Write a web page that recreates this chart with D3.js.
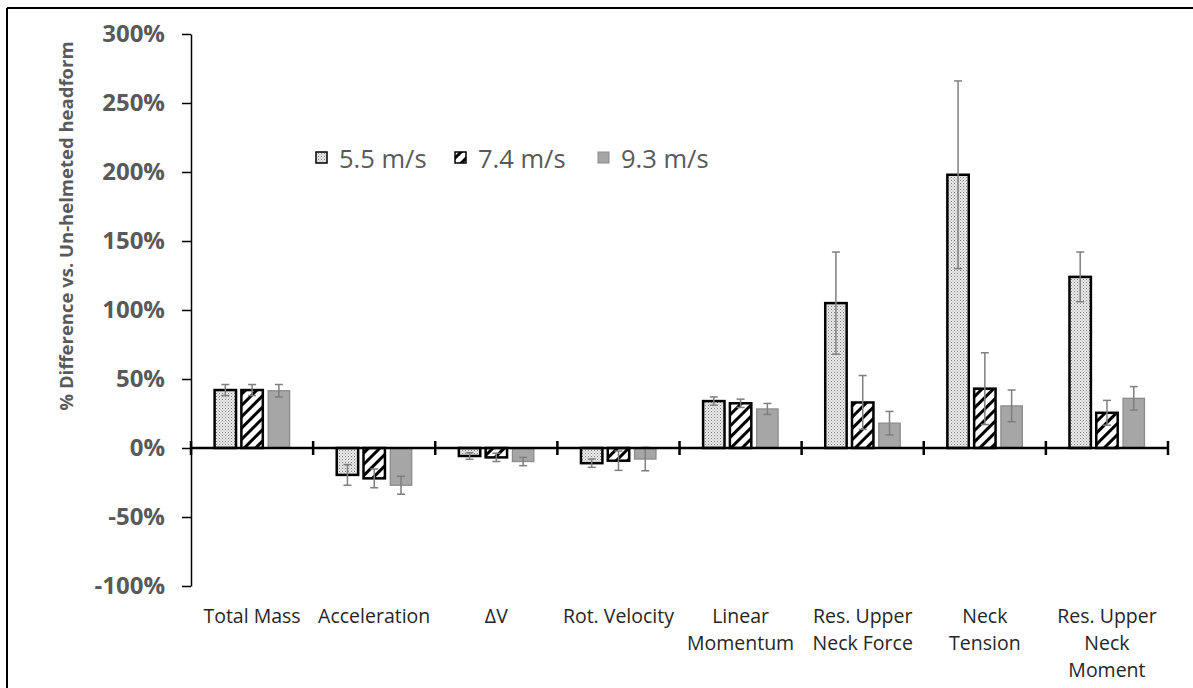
<!DOCTYPE html>
<html><head><meta charset="utf-8">
<script src="https://cdn.jsdelivr.net/npm/d3@7"></script>
<style>
html,body{margin:0;padding:0;background:#fff;}
svg{display:block;font-family:"Open Sans",sans-serif;}
</style></head>
<body>
<svg id="chart" width="1193" height="688"></svg>
<script>
const categories = ["Total Mass","Acceleration","ΔV","Rot. Velocity","Linear Momentum","Res. Upper Neck Force","Neck Tension","Res. Upper Neck Moment"];
const categoryLines = [["Total Mass"],["Acceleration"],["ΔV"],["Rot. Velocity"],["Linear","Momentum"],["Res. Upper","Neck Force"],["Neck","Tension"],["Res. Upper","Neck","Moment"]];
const seriesNames = ["5.5 m/s","7.4 m/s","9.3 m/s"];
const v55 = [42, -19.5, -5.8, -11, 34, 105, 198, 124];
const v74 = [42, -22, -6.8, -9.2, 32.4, 33, 43, 25.5];
const v93 = [41.5, -27, -9.8, -8, 28.3, 18, 30.5, 36];
const e55 = [4, 7.5, 2.4, 3, 3, 37, 68, 18];
const e74 = [4, 6.8, 3, 7, 3, 19.5, 26, 9];
const e93 = [4.5, 6.5, 3, 8.5, 4, 8.5, 11.5, 8.5];
const yTicks = [-100,-50,0,50,100,150,200,250,300];

const values = [v55, v74, v93];
const errors = [e55, e74, e93];

const svg = d3.select("#chart");
const defs = svg.append("defs");
// dotted pattern
const pd = defs.append("pattern").attr("id","dots").attr("patternUnits","userSpaceOnUse").attr("width",3).attr("height",3);
pd.append("rect").attr("width",3).attr("height",3).attr("fill","#ececec");
pd.append("rect").attr("x",0).attr("y",0).attr("width",1).attr("height",1).attr("fill","#7a7a7a");
pd.append("rect").attr("x",1.5).attr("y",1.5).attr("width",1).attr("height",1).attr("fill","#9a9a9a");
// hatch pattern
const ph = defs.append("pattern").attr("id","hatch").attr("patternUnits","userSpaceOnUse").attr("width",8).attr("height",8).attr("patternTransform","rotate(45)");
ph.append("rect").attr("width",8).attr("height",8).attr("fill","#fff");
ph.append("rect").attr("x",0).attr("y",0).attr("width",3).attr("height",8).attr("fill","#000");

const fills = ["url(#dots)","url(#hatch)","#a6a6a6"];
const strokes = ["#000","#000","#8c8c8c"];
const strokeW = [2.5,2.5,1.3];

// frame (top & left visible)
svg.append("line").attr("x1",7).attr("x2",1193).attr("y1",8).attr("y2",8).attr("stroke","#000").attr("stroke-width",2);
svg.append("line").attr("x1",7).attr("x2",7).attr("y1",8).attr("y2",688).attr("stroke","#000").attr("stroke-width",2);

const y = d3.scaleLinear().domain([-100,300]).range([586,34]);
const x = d3.scaleBand().domain(categories).range([191,1168]).padding(0);
const xs = d3.scaleBand().domain(seriesNames).range([23.6, 98.6]).paddingInner(0.2).paddingOuter(0);

// bars
seriesNames.forEach((s,si)=>{
  const g = svg.append("g");
  g.selectAll("rect").data(categories).join("rect")
    .attr("x", (c)=> x(c)+xs(s))
    .attr("width", xs.bandwidth())
    .attr("y", (c,i)=> y(Math.max(0, values[si][i])))
    .attr("height", (c,i)=> Math.abs(y(values[si][i]) - y(0)))
    .attr("fill", fills[si]).attr("stroke", strokes[si]).attr("stroke-width", strokeW[si]);
});
// error bars
seriesNames.forEach((s,si)=>{
  const g = svg.append("g").attr("stroke","#7f7f7f").attr("stroke-width",1.5);
  categories.forEach((c,i)=>{
    const cx = x(c)+xs(s)+xs.bandwidth()/2;
    const v = values[si][i], e = errors[si][i];
    g.append("line").attr("x1",cx).attr("x2",cx).attr("y1",y(v+e)).attr("y2",y(v-e));
    g.append("line").attr("x1",cx-4).attr("x2",cx+4).attr("y1",y(v+e)).attr("y2",y(v+e));
    g.append("line").attr("x1",cx-4).attr("x2",cx+4).attr("y1",y(v-e)).attr("y2",y(v-e));
  });
});

// y axis
const ya = svg.append("g").attr("transform","translate(191,0)")
  .call(d3.axisLeft(y).tickValues(yTicks).tickSize(9).tickSizeOuter(0).tickFormat(d=>d+"%"));
ya.select(".domain").attr("stroke","#000").attr("stroke-width",1.5);
ya.selectAll(".tick line").attr("stroke","#000").attr("stroke-width",1.5);
ya.selectAll(".tick text").attr("x",-26).attr("fill","#595959").attr("font-size","24px").attr("font-weight","bold").attr("font-family","Open Sans");

// x axis at zero
const boundaries = categories.map(c=>x(c)).concat([x.range()[1]]);
svg.append("line").attr("x1",191).attr("x2",1168).attr("y1",y(0)).attr("y2",y(0)).attr("stroke","#000").attr("stroke-width",2.5);
svg.append("g").selectAll("line").data(boundaries).join("line")
  .attr("x1",d=>d).attr("x2",d=>d).attr("y1",y(0)-7).attr("y2",y(0)+7).attr("stroke","#000").attr("stroke-width",2.5);

// x labels
const xl = svg.append("g").attr("font-size","19.5px").attr("fill","#262626").attr("text-anchor","middle");
categoryLines.forEach((lines,i)=>{
  const t = xl.append("text").attr("x", x(categories[i])+x.bandwidth()/2).attr("y",623);
  lines.forEach((ln,j)=>{
    t.append("tspan").attr("x", x(categories[i])+x.bandwidth()/2).attr("dy", j===0?0:27).text(ln);
  });
});

// y title
svg.append("text").attr("transform","translate(73,226) rotate(-90)").attr("text-anchor","middle")
  .attr("font-size","18.5px").attr("font-weight","bold").attr("fill","#595959")
  .text("% Difference vs. Un-helmeted headform");

// legend
const legX = [316, 455, 598];
const lg = svg.append("g");
seriesNames.forEach((s,si)=>{
  lg.append("rect").attr("x",legX[si]).attr("y",152).attr("width",11).attr("height",11)
    .attr("fill",fills[si]).attr("stroke",strokes[si]).attr("stroke-width",si<2?1.5:1);
  lg.append("text").attr("x",legX[si]+23).attr("y",168).attr("font-size","25.5px").attr("fill","#595959").text(s);
});
</script>
</body></html>
